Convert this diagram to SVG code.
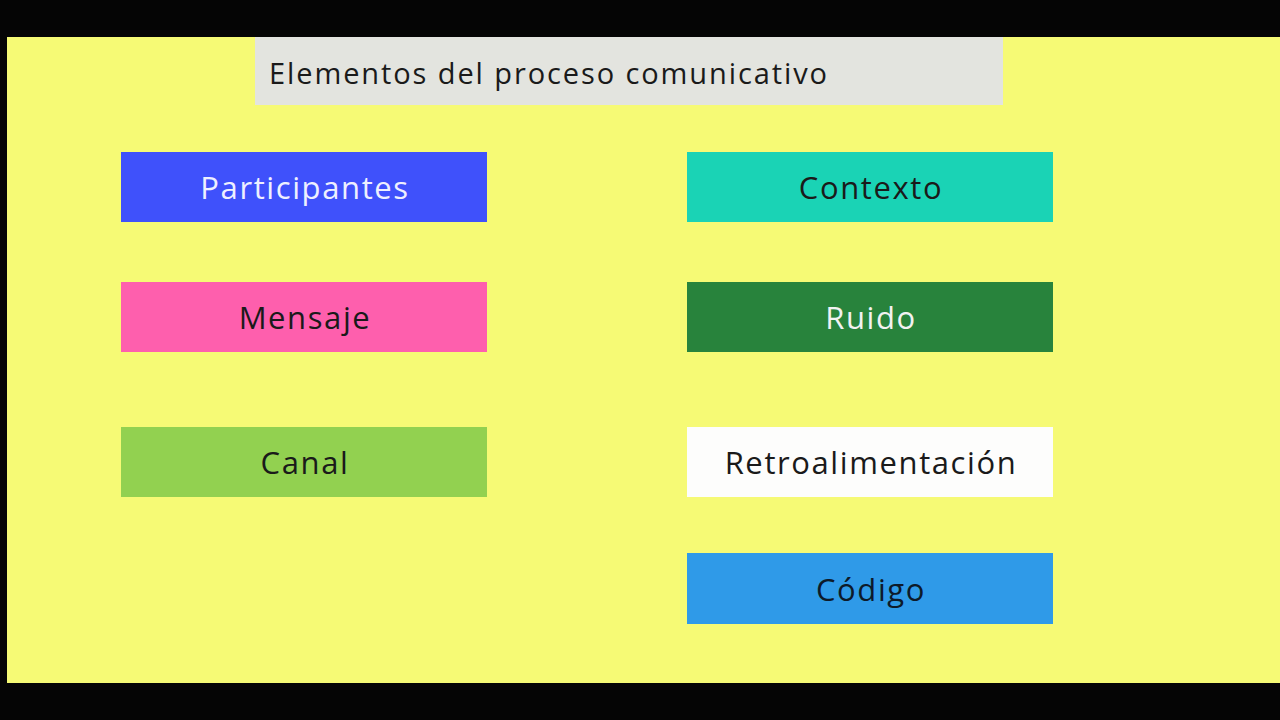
<svg xmlns="http://www.w3.org/2000/svg" width="1280" height="720" viewBox="0 0 1280 720">
<style>
.lbl{font-family:"Open Sans",Lato,"Liberation Sans",sans-serif;font-size:31px;text-anchor:middle;dominant-baseline:central;letter-spacing:1.6px}
.dark{fill:#1a1a1a}
.light{fill:#eef0ff}
</style>
<rect x="0" y="0" width="1280" height="720" fill="#050505"/>
<rect x="7" y="37" width="1273" height="646" fill="#F6FA75"/>
<g id="title">
<rect x="255" y="37" width="748" height="68" fill="#E3E4DF"/>
<text x="269" y="72" font-family="'Open Sans',Lato,'Liberation Sans',sans-serif" font-size="29" letter-spacing="1.9" fill="#1a1a1a" dominant-baseline="central">Elementos del proceso comunicativo</text>
</g>
<g id="participantes">
<rect x="121" y="152" width="366" height="70" fill="#3F51FB"/>
<text class="lbl light" x="305" y="187">Participantes</text>
</g>
<g id="mensaje">
<rect x="121" y="282" width="366" height="70" fill="#FE5FAD"/>
<text class="lbl dark" x="305" y="317">Mensaje</text>
</g>
<g id="canal">
<rect x="121" y="427" width="366" height="70" fill="#92D150"/>
<text class="lbl dark" x="305" y="462">Canal</text>
</g>
<g id="contexto">
<rect x="687" y="152" width="366" height="70" fill="#1AD3B5"/>
<text class="lbl dark" x="871" y="187">Contexto</text>
</g>
<g id="ruido">
<rect x="687" y="282" width="366" height="70" fill="#28833C"/>
<text class="lbl" x="871" y="317" fill="#f2f2f2">Ruido</text>
</g>
<g id="retroalimentacion">
<rect x="687" y="427" width="366" height="70" fill="#FDFDFC"/>
<text class="lbl dark" x="871" y="462">Retroalimentación</text>
</g>
<g id="codigo">
<rect x="687" y="553" width="366" height="71" fill="#2F9AE8"/>
<text class="lbl" x="871" y="589" fill="#0d1a2a">Código</text>
</g>
<g id="connectors"></g>
</svg>
